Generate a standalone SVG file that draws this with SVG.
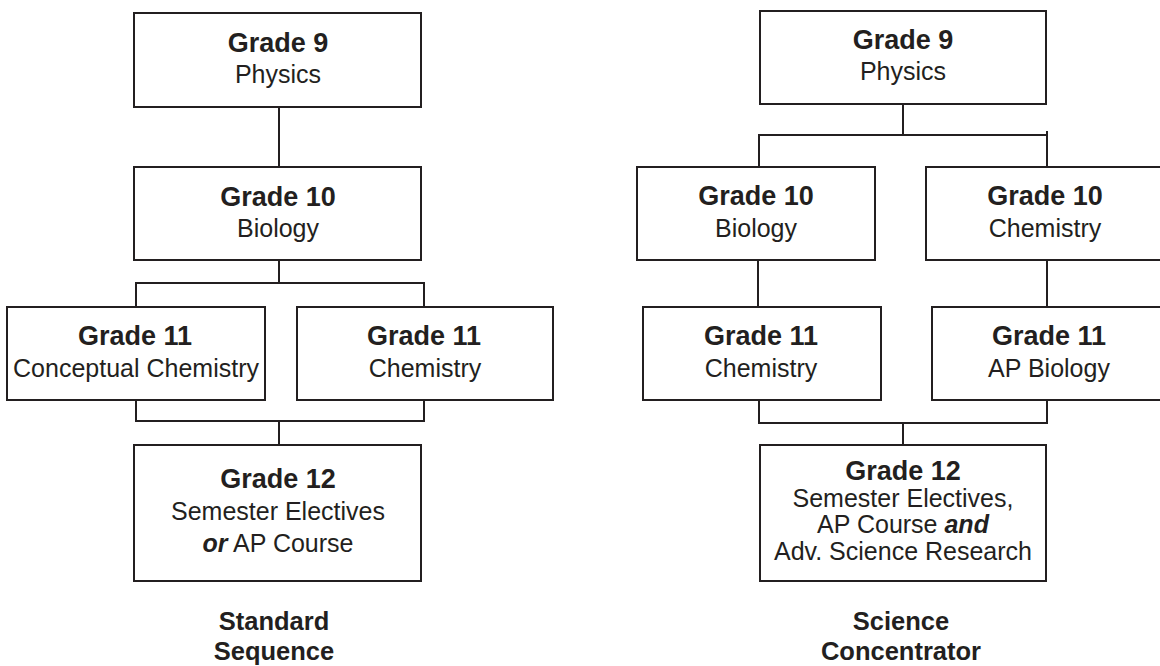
<svg xmlns="http://www.w3.org/2000/svg" width="1160" height="666" viewBox="0 0 1160 666">
<style>
  .box{fill:#fff;stroke:#231f20;stroke-width:2}
  .ln{fill:none;stroke:#231f20;stroke-width:2}
  text{font-family:"Liberation Sans",Arial,sans-serif;fill:#231f20;text-anchor:middle}
  .h{font-weight:bold;font-size:27px}
  .b{font-size:25px}
  .bi{font-weight:bold;font-style:italic}
  .lab{font-weight:bold;font-size:25.5px}
</style>
<rect width="1160" height="666" fill="#fff"/>
<g id="connectors">
  <path class="ln" d="M279,107 V167"/>
  <path class="ln" d="M279,260 V283"/>
  <path class="ln" d="M136,307 V283 H424 V307"/>
  <path class="ln" d="M136,400 V421 H424 V400"/>
  <path class="ln" d="M279,421 V445"/>
  <path class="ln" d="M903,104 V135"/>
  <path class="ln" d="M759,167 V135 H1047"/>
  <path class="ln" d="M1047,131 V167"/>
  <path class="ln" d="M758,260 V307"/>
  <path class="ln" d="M1047,260 V307"/>
  <path class="ln" d="M759,400 V423 H1047 V400"/>
  <path class="ln" d="M903,423 V445"/>
</g>
<g id="std-g9">
  <rect class="box" x="134" y="13" width="287" height="94"/>
  <text class="h" x="278" y="52">Grade 9</text>
  <text class="b" x="278" y="83">Physics</text>
</g>
<g id="std-g10">
  <rect class="box" x="134" y="167" width="287" height="93"/>
  <text class="h" x="278" y="206">Grade 10</text>
  <text class="b" x="278" y="237">Biology</text>
</g>
<g id="std-g11a">
  <rect class="box" x="7" y="307" width="258" height="93"/>
  <text class="h" x="135" y="345">Grade 11</text>
  <text class="b" x="136" y="377">Conceptual Chemistry</text>
</g>
<g id="std-g11b">
  <rect class="box" x="297" y="307" width="256" height="93"/>
  <text class="h" x="424" y="345">Grade 11</text>
  <text class="b" x="425" y="377">Chemistry</text>
</g>
<g id="std-g12">
  <rect class="box" x="134" y="445" width="287" height="136"/>
  <text class="h" x="278" y="488">Grade 12</text>
  <text class="b" x="278" y="520">Semester Electives</text>
  <text class="b" x="278" y="552"><tspan class="bi">or</tspan> AP Course</text>
</g>
<g id="std-label">
  <text class="lab" x="274" y="630">Standard</text>
  <text class="lab" x="274" y="660">Sequence</text>
</g>
<g id="sci-g9">
  <rect class="box" x="760" y="11" width="286" height="93"/>
  <text class="h" x="903" y="49">Grade 9</text>
  <text class="b" x="903" y="80">Physics</text>
</g>
<g id="sci-g10a">
  <rect class="box" x="637" y="167" width="238" height="93"/>
  <text class="h" x="756" y="205">Grade 10</text>
  <text class="b" x="756" y="237">Biology</text>
</g>
<g id="sci-g10b">
  <rect class="box" x="926" y="167" width="242" height="93"/>
  <text class="h" x="1045" y="205">Grade 10</text>
  <text class="b" x="1045" y="237">Chemistry</text>
</g>
<g id="sci-g11a">
  <rect class="box" x="643" y="307" width="238" height="93"/>
  <text class="h" x="761" y="345">Grade 11</text>
  <text class="b" x="761" y="377">Chemistry</text>
</g>
<g id="sci-g11b">
  <rect class="box" x="932" y="307" width="232" height="93"/>
  <text class="h" x="1049" y="345">Grade 11</text>
  <text class="b" x="1049" y="377">AP Biology</text>
</g>
<g id="sci-g12">
  <rect class="box" x="760" y="445" width="286" height="136"/>
  <text class="h" x="903" y="480">Grade 12</text>
  <text class="b" x="903" y="507">Semester Electives,</text>
  <text class="b" x="903" y="533">AP Course <tspan class="bi">and</tspan></text>
  <text class="b" x="903" y="560">Adv. Science Research</text>
</g>
<g id="sci-label">
  <text class="lab" x="901" y="630">Science</text>
  <text class="lab" x="901" y="660">Concentrator</text>
</g>
</svg>
